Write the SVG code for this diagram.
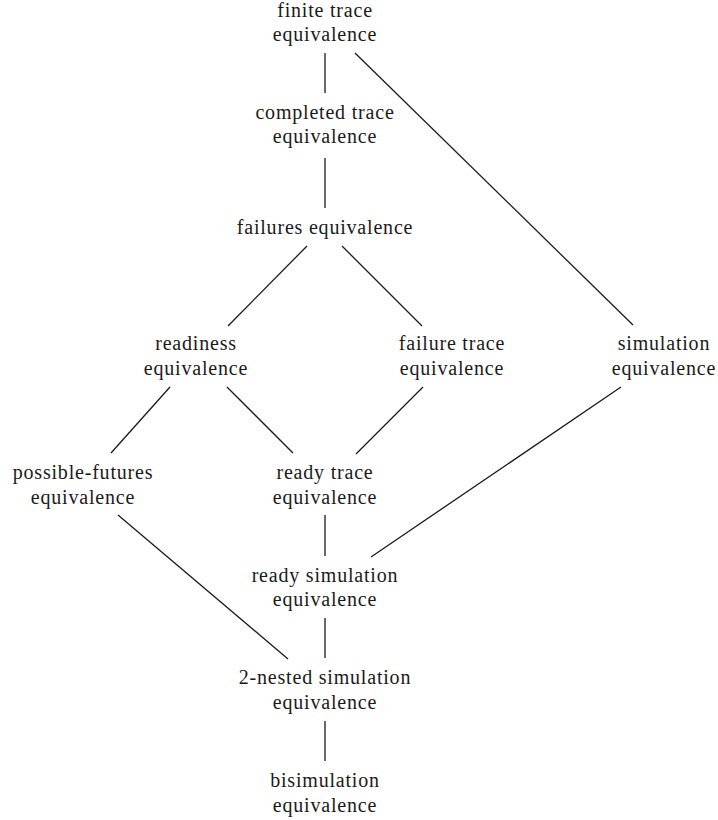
<svg xmlns="http://www.w3.org/2000/svg" width="718" height="820" viewBox="0 0 718 820">
<style>
text { font-family: "Liberation Serif", "DejaVu Serif", serif; font-size: 20px; letter-spacing: 0.8px; fill: #1a1a1a; text-anchor: middle; }
#edges line { stroke: #1a1a1a; stroke-width: 1.3; }
</style>
<rect width="718" height="820" fill="#ffffff"/>
<g id="edges">
<line x1="325" y1="53" x2="325" y2="93"/>
<line x1="355" y1="53" x2="633" y2="325"/>
<line x1="325" y1="158" x2="325" y2="208"/>
<line x1="307" y1="246" x2="228" y2="326"/>
<line x1="342" y1="246" x2="422" y2="326"/>
<line x1="170" y1="387" x2="111" y2="453"/>
<line x1="227" y1="387" x2="293" y2="453"/>
<line x1="423" y1="387" x2="356" y2="454"/>
<line x1="621" y1="387" x2="371" y2="557"/>
<line x1="325" y1="515" x2="325" y2="556"/>
<line x1="118" y1="515" x2="288" y2="659"/>
<line x1="325" y1="618" x2="325" y2="658"/>
<line x1="325" y1="721" x2="325" y2="761"/>
</g>
<g id="finite-trace"><text x="325" y="17">finite trace</text><text x="325" y="41">equivalence</text></g>
<g id="completed-trace"><text x="325" y="119">completed trace</text><text x="325" y="143">equivalence</text></g>
<g id="failures"><text x="325" y="234">failures equivalence</text></g>
<g id="readiness"><text x="196" y="350">readiness</text><text x="196" y="375">equivalence</text></g>
<g id="failure-trace"><text x="452" y="350">failure trace</text><text x="452" y="375">equivalence</text></g>
<g id="simulation"><text x="664" y="350">simulation</text><text x="664" y="375">equivalence</text></g>
<g id="possible-futures"><text x="83" y="479">possible-futures</text><text x="83" y="504">equivalence</text></g>
<g id="ready-trace"><text x="325" y="479">ready trace</text><text x="325" y="504">equivalence</text></g>
<g id="ready-simulation"><text x="325" y="582">ready simulation</text><text x="325" y="606">equivalence</text></g>
<g id="nested-simulation"><text x="325" y="684">2-nested simulation</text><text x="325" y="709">equivalence</text></g>
<g id="bisimulation"><text x="325" y="787">bisimulation</text><text x="325" y="812">equivalence</text></g>
</svg>
